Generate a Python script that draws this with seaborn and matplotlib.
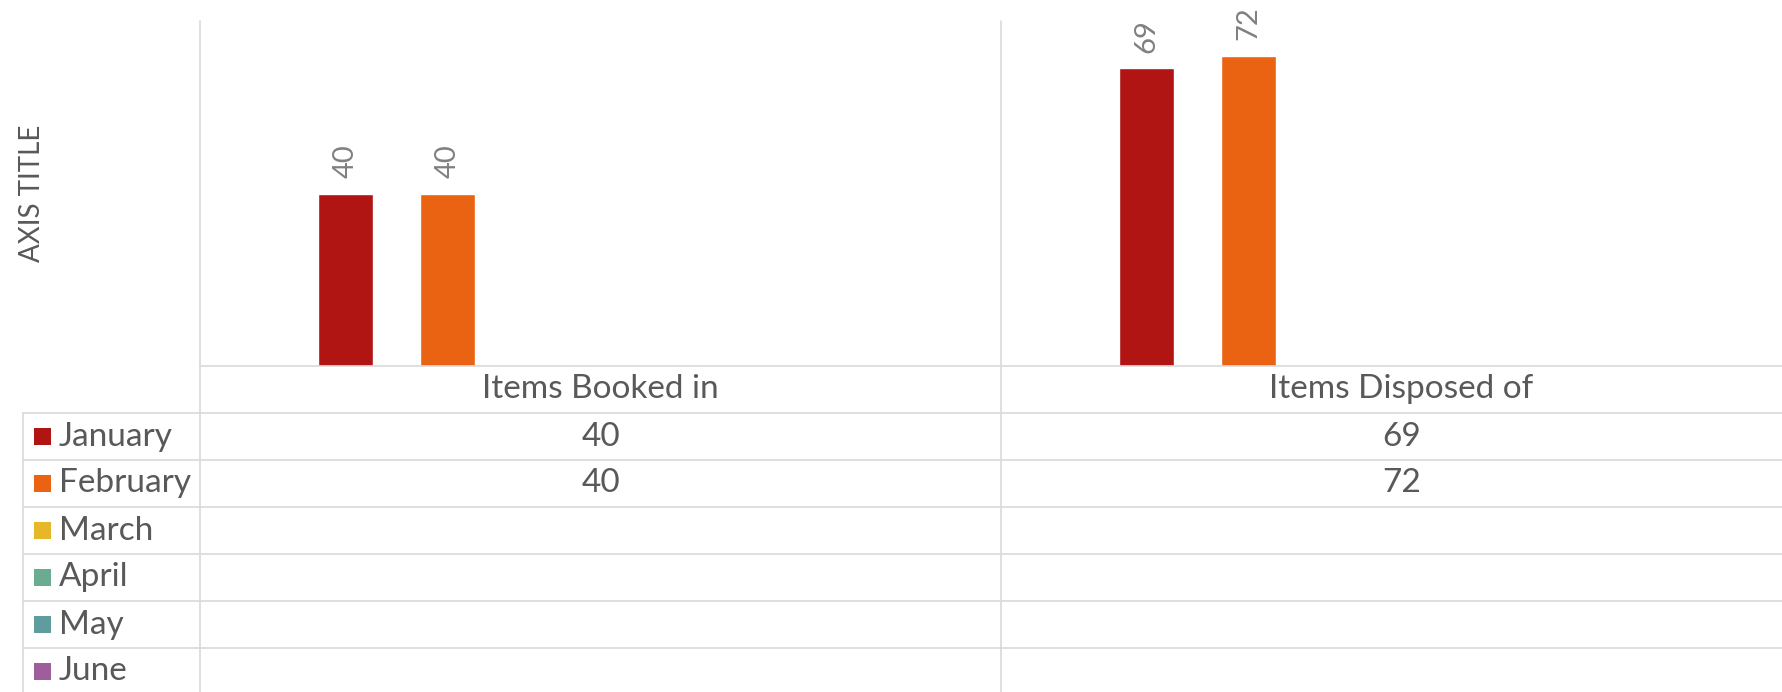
import numpy as np
import pandas as pd
import matplotlib
matplotlib.use('Agg')
import matplotlib.pyplot as plt
import matplotlib.transforms as mtransforms
from matplotlib.patches import Rectangle
import seaborn as sns

# data
categories = ['Items Booked in', 'Items Disposed of']
months = ['January', 'February', 'March', 'April', 'May', 'June']
january = [40, 69]
february = [40, 72]
march = [np.nan, np.nan]
april = [np.nan, np.nan]
may = [np.nan, np.nan]
june = [np.nan, np.nan]
month_colors = ['#B01513', '#EA6312', '#E6B729', '#6AAC90', '#5F9C9D', '#9E5E9B']

series = [january, february, march, april, may, june]
df = pd.DataFrame({
    'category': categories * len(months),
    'month': np.repeat(months, len(categories)),
    'value': np.concatenate(series).astype(float),
})

sns.set_style('white')
plt.rcParams['font.family'] = ['Lato', 'DejaVu Sans']

W, H = 1783, 692
grid_c = '#D9D9D9'
text_c = '#595959'
fs = 24

fig = plt.figure(figsize=(W / 100, H / 100), dpi=100)
ax = fig.add_axes([200 / W, 1 - 366 / H, (W - 200) / W, 345 / H])
sns.barplot(data=df, x='category', y='value', hue='month', order=categories,
            hue_order=months, palette=month_colors, width=0.764, gap=0.47,
            errorbar=None, legend=False, ax=ax, saturation=1)
ax.set_xlim(-0.5, -0.5 + (W - 200) / 801)
ax.set_ylim(0, 80)
ax.set_xticks([])
ax.set_yticks([])
ax.set_xlabel('')
ax.set_ylabel('')
for s in ax.spines.values():
    s.set_visible(False)
ax.patch.set_alpha(0)

# etiquetas de valor rotadas
for c in ax.containers:
    vals = c.datavalues
    if len(vals) == 0 or np.all(np.isnan(vals)):
        continue
    labels = ['' if np.isnan(v) else f'{v:g}' for v in vals]
    ax.bar_label(c, labels=labels, rotation=90, padding=11, color='#808080', fontsize=21)

# overlay em pixels para a tabela de dados
ov = fig.add_axes([0, 0, 1, 1])
ov.set_xlim(0, W)
ov.set_ylim(H, 0)
ov.axis('off')
ov.patch.set_alpha(0)
blend = mtransforms.blended_transform_factory(ax.transData, ov.transData)

lw = 1.2
x_left, x_right = -0.5, len(categories) - 0.5
for xv in np.arange(len(categories) + 1) - 0.5:
    ov.plot([xv, xv], [21, H], color=grid_c, lw=lw, transform=blend, clip_on=False)
ov.plot([x_left, x_right], [366, 366], color=grid_c, lw=lw, transform=blend, clip_on=False)

row_top, row_h = 413, 47
for k in range(len(months) + 1):
    y = row_top + k * row_h
    ov.plot([23, W], [y, y], color=grid_c, lw=lw, clip_on=False)
ov.plot([23, 23], [row_top, H], color=grid_c, lw=lw, clip_on=False)

for i, cat in enumerate(categories):
    ov.text(i, (366 + row_top) / 2, cat, transform=blend, ha='center', va='center',
            color=text_c, fontsize=fs)

for r, (m, col, vals) in enumerate(zip(months, month_colors, series)):
    yc = row_top + row_h * (r + 0.5)
    ov.add_patch(Rectangle((34, yc - 8.5), 17, 17, color=col, lw=0))
    ov.text(59, yc, m, ha='left', va='center', color=text_c, fontsize=fs)
    for i, v in enumerate(vals):
        if not np.isnan(v):
            ov.text(i, yc, f'{v:g}', transform=blend, ha='center', va='center',
                    color=text_c, fontsize=fs)

ov.text(32, 193.5, 'AXIS TITLE', rotation=90, ha='center', va='center',
        color=text_c, fontsize=20)

plt.savefig('out.png', dpi=100)
